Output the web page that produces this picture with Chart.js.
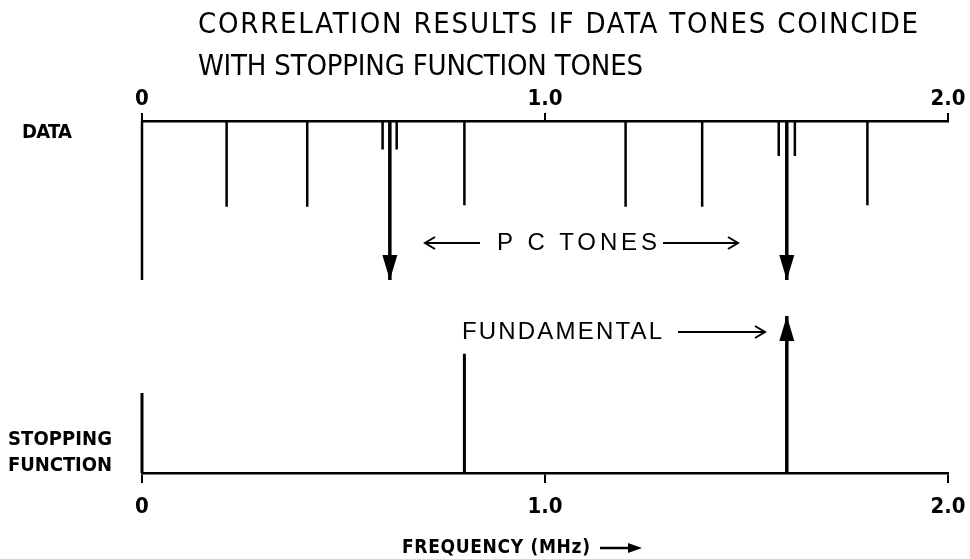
<!DOCTYPE html>
<html>
<head>
<meta charset="utf-8">
<script src="https://cdn.jsdelivr.net/npm/chart.js@4"></script>
<style>
  html, body { margin: 0; padding: 0; background: #fff; }
  #wrap { width: 970px; height: 559px; position: relative; }
</style>
</head>
<body>
<div id="wrap"><canvas id="corr" width="970" height="559"></canvas></div>
<script>
// --- values (frequency in MHz, amplitude normalised) ---
const tickValues = [0, 1.0, 2.0];
const tickLabels = ['0', '1.0', '2.0'];

// data spectrum (hangs down from the top axis)
const dataToneFreqs = [0, 0.21, 0.41, 0.80, 1.20, 1.39, 1.80];
const dataToneAmps  = [1.0, 0.54, 0.54, 0.53, 0.54, 0.54, 0.53];
const sidebandFreqs = [0.597, 0.632, 1.58, 1.62];
const sidebandAmps  = [0.18, 0.18, 0.22, 0.22];
const pcToneFreqs   = [0.615, 1.60];
const pcToneAmps    = [1.0, 1.0];

// stopping function (rises from the bottom axis)
const stopFreqs = [0, 0.80];
const stopAmps  = [0.51, 0.76];
const fundamentalFreqs = [1.60];
const fundamentalAmps  = [1.0];

const NARROW = '"DejaVu Sans Condensed", "Liberation Sans Narrow", sans-serif';
const PLAIN = '"Liberation Sans", Arial, sans-serif';

function stems(freqs, amps) {
  const pts = [];
  freqs.forEach((f, i) => {
    pts.push({ x: f, y: 0 }, { x: f, y: amps[i] }, { x: f, y: null });
  });
  return pts;
}

function stemSet(freqs, amps, yAxisID, xAxisID, width) {
  return {
    data: stems(freqs, amps),
    xAxisID, yAxisID,
    borderColor: '#000',
    borderWidth: width,
    borderCapStyle: 'butt',
    pointRadius: 0,
    spanGaps: false,
    clip: false,
  };
}

function fitText(ctx, text, x, y, width, font) {
  ctx.font = font;
  ctx.letterSpacing = '0px';
  const w = ctx.measureText(text).width;
  const n = Math.max(1, text.length - 1);
  ctx.letterSpacing = ((width - w) / n) + 'px';
  ctx.fillText(text, x, y);
  ctx.letterSpacing = '0px';
}

function openArrow(ctx, x1, x2, y, headLeft, headRight) {
  ctx.beginPath();
  ctx.moveTo(x1, y); ctx.lineTo(x2, y);
  if (headLeft) { ctx.moveTo(x1 + 10, y - 6); ctx.lineTo(x1, y); ctx.lineTo(x1 + 10, y + 6); }
  if (headRight) { ctx.moveTo(x2 - 10, y - 6); ctx.lineTo(x2, y); ctx.lineTo(x2 - 10, y + 6); }
  ctx.stroke();
}

function arrowHead(ctx, x, tipY, dir) {
  // dir = 1 points down, -1 points up
  const len = 25, half = 7.5;
  ctx.beginPath();
  ctx.moveTo(x, tipY);
  ctx.lineTo(x - half, tipY - dir * len);
  ctx.lineTo(x + half, tipY - dir * len);
  ctx.closePath();
  ctx.fill();
}

const decorations = {
  id: 'decorations',
  afterDatasetsDraw(chart) {
    const ctx = chart.ctx;
    const xs = chart.scales.x, yd = chart.scales.yData, ys = chart.scales.yStop;
    ctx.save();
    ctx.fillStyle = '#000';
    pcToneFreqs.forEach((f, i) => arrowHead(ctx, xs.getPixelForValue(f), yd.getPixelForValue(pcToneAmps[i]), 1));
    fundamentalFreqs.forEach((f, i) => arrowHead(ctx, xs.getPixelForValue(f), ys.getPixelForValue(fundamentalAmps[i]), -1));
    ctx.restore();
  },
  afterDraw(chart) {
    const ctx = chart.ctx;
    ctx.save();
    ctx.fillStyle = '#000';
    ctx.strokeStyle = '#000';
    ctx.textBaseline = 'middle';
    ctx.textAlign = 'left';

    fitText(ctx, 'CORRELATION RESULTS IF DATA TONES COINCIDE', 198, 25, 720, '29px ' + NARROW);
    fitText(ctx, 'WITH STOPPING FUNCTION TONES', 198, 67, 445, '29px ' + NARROW);

    fitText(ctx, 'DATA', 22, 133, 50, 'bold 20px ' + NARROW);
    fitText(ctx, 'STOPPING', 8, 440, 104, 'bold 20px ' + NARROW);
    fitText(ctx, 'FUNCTION', 8, 466, 104, 'bold 20px ' + NARROW);

    fitText(ctx, 'P C TONES', 497, 243, 160, '24px ' + PLAIN);
    ctx.lineWidth = 2;
    openArrow(ctx, 425, 480, 243, true, false);
    openArrow(ctx, 663, 738, 243, false, true);

    fitText(ctx, 'FUNDAMENTAL', 462, 332, 200, '24px ' + PLAIN);
    openArrow(ctx, 678, 765, 332, false, true);

    fitText(ctx, 'FREQUENCY (MHz)', 402, 548, 188, 'bold 19px ' + NARROW);
    ctx.lineWidth = 2.5;
    ctx.beginPath(); ctx.moveTo(600, 548); ctx.lineTo(630, 548); ctx.stroke();
    ctx.beginPath(); ctx.moveTo(642, 548); ctx.lineTo(628, 543); ctx.lineTo(628, 553); ctx.closePath(); ctx.fill();
    ctx.restore();
  }
};

function freqAxis(position, height, padding, tickLen) {
  return {
    type: 'linear',
    position,
    min: 0, max: 2,
    afterBuildTicks: s => { s.ticks = tickValues.map(v => ({ value: v })); },
    afterFit: s => { s.height = height; s.paddingLeft = 0; s.paddingRight = 0; },
    ticks: {
      autoSkip: false,
      maxRotation: 0,
      padding,
      color: '#000',
      font: { family: NARROW, size: 22, weight: 'bold' },
      callback: v => tickLabels[tickValues.indexOf(v)] ?? '',
    },
    grid: { display: true, drawOnChartArea: false, drawTicks: true, tickLength: tickLen, color: '#000', lineWidth: 2 },
    border: { display: true, color: '#000', width: 2.5 },
  };
}

new Chart(document.getElementById('corr').getContext('2d'), {
  type: 'line',
  data: {
    datasets: [
      stemSet(dataToneFreqs, dataToneAmps, 'yData', 'x', 2.5),
      stemSet(sidebandFreqs, sidebandAmps, 'yData', 'x', 2.5),
      stemSet(pcToneFreqs, pcToneAmps, 'yData', 'x', 3.5),
      stemSet(stopFreqs, stopAmps, 'yStop', 'x', 3),
      stemSet(fundamentalFreqs, fundamentalAmps, 'yStop', 'x', 3.5),
    ]
  },
  options: {
    responsive: false,
    animation: false,
    events: [],
    layout: { padding: { left: 142, right: 22, top: 0, bottom: 0 } },
    plugins: { legend: { display: false }, tooltip: { enabled: false }, title: { display: false } },
    scales: {
      xTop: freqAxis('top', 121, 1, 8),
      x: freqAxis('bottom', 86, 11, 10),
      yData: { type: 'linear', display: false, reverse: true, min: 0, max: 352 / 159 },
      yStop: { type: 'linear', display: false, min: 0, max: 352 / 157 },
    }
  },
  plugins: [decorations]
});
</script>
</body>
</html>
